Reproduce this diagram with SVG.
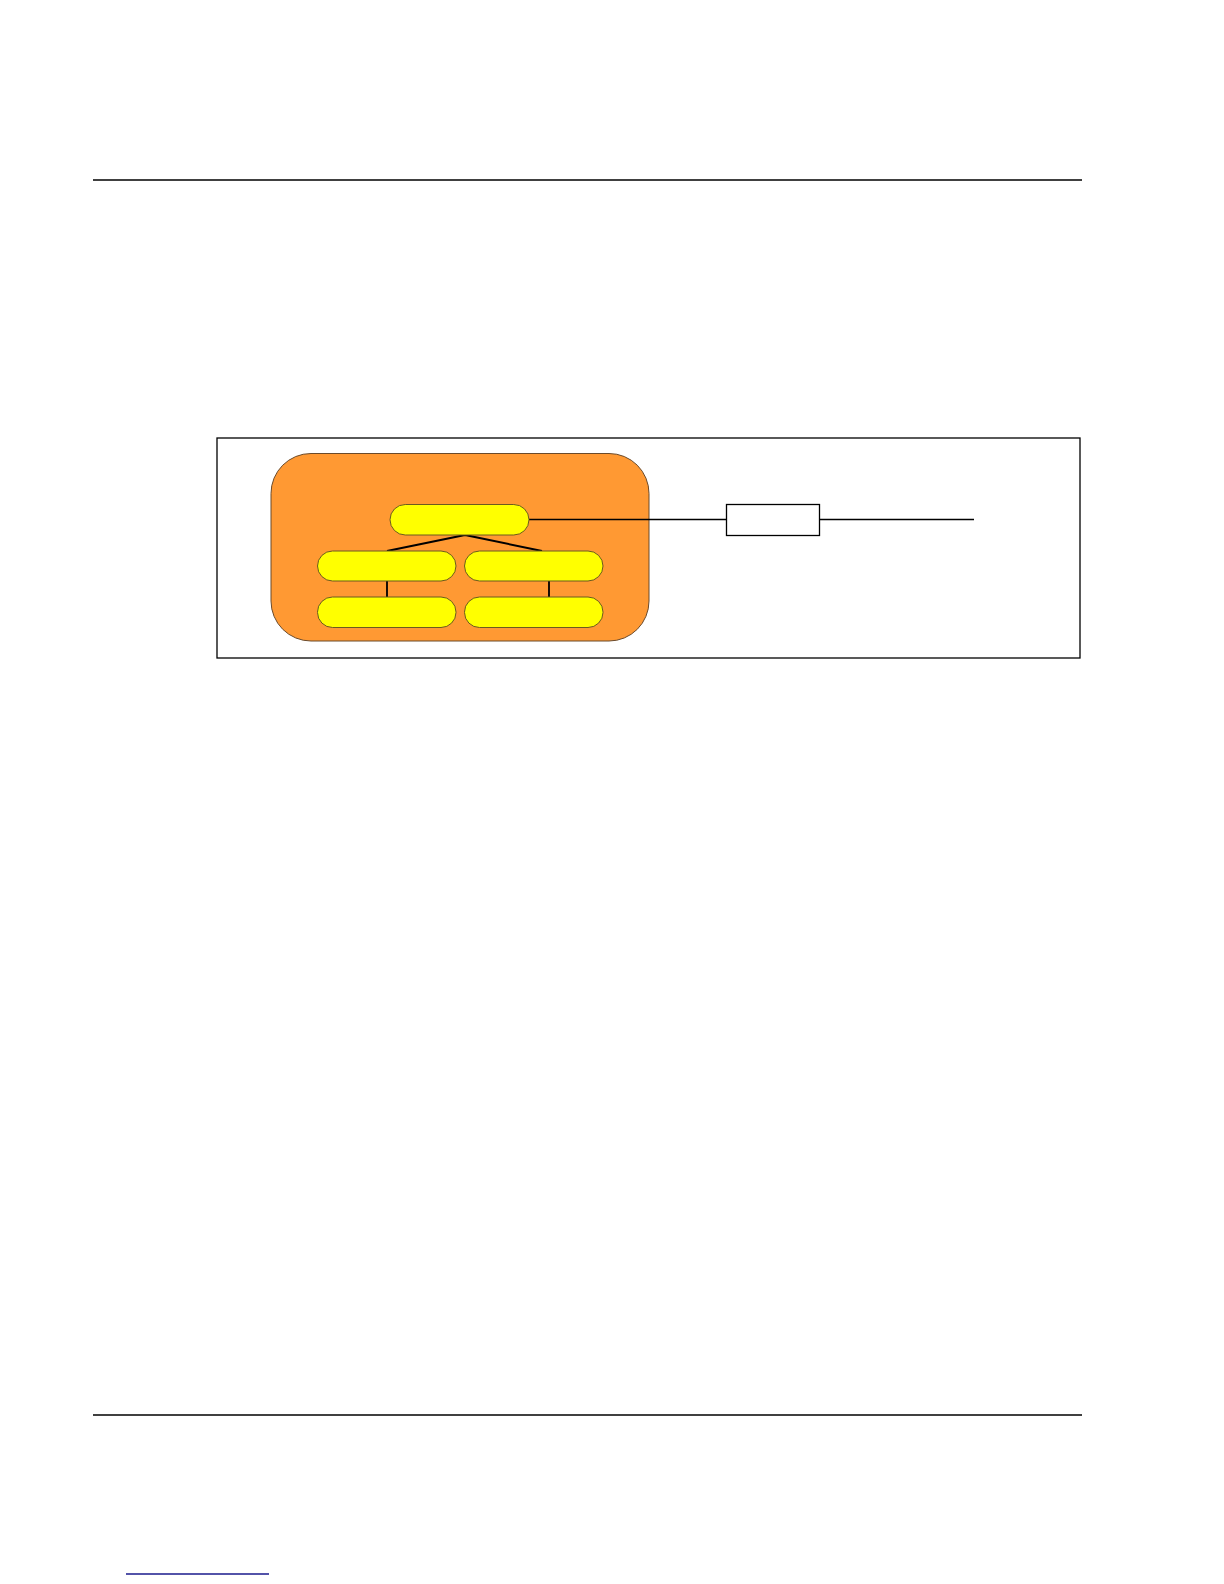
<svg xmlns="http://www.w3.org/2000/svg" width="1224" height="1584" viewBox="0 0 1224 1584">
<style>
.rule{stroke:#000;stroke-width:1.6;fill:none}
.pill{fill:#FFFF00;stroke:#6b5a1e;stroke-width:1}
.con{stroke:#000;fill:none}
</style>
<rect width="1224" height="1584" fill="#fff"/>
<g id="page">
<line class="rule" x1="93" y1="180" x2="1082" y2="180"/>
<line class="rule" x1="93" y1="1415" x2="1082" y2="1415"/>
<line x1="126" y1="1574" x2="269" y2="1574" stroke="#1a1a8c" stroke-width="1.4"/>
</g>
<g id="frame">
<rect x="217" y="438" width="863" height="220" fill="none" stroke="#000" stroke-width="1.3"/>
</g>
<g id="container">
<rect x="271" y="453.5" width="378" height="187.5" rx="40" ry="40" fill="#FF9933" stroke="#6b4a2a" stroke-width="1"/>
</g>
<g id="connectors">
<path class="con" stroke-width="2" d="M465,535 L387,551 M465,535 L542,551"/>
<path class="con" stroke-width="1.8" d="M387,581 V597 M549,581 V597"/>
<path class="con" stroke-width="1.3" d="M529,519.5 H726.5 M819.5,519.5 H974"/>
</g>
<g id="node-top"><rect class="pill" x="390" y="504.5" width="139" height="30.5" rx="15.25"/></g>
<g id="node-mid-left"><rect class="pill" x="317.5" y="551" width="138.5" height="30" rx="15"/></g>
<g id="node-mid-right"><rect class="pill" x="464.5" y="551" width="138.5" height="30" rx="15"/></g>
<g id="node-bottom-left"><rect class="pill" x="317.5" y="597" width="138.5" height="30.5" rx="15"/></g>
<g id="node-bottom-right"><rect class="pill" x="464.5" y="597" width="138.5" height="30.5" rx="15"/></g>
<g id="box"><rect x="726.5" y="504.5" width="93" height="31" fill="#fff" stroke="#000" stroke-width="1.3"/></g>
</svg>
